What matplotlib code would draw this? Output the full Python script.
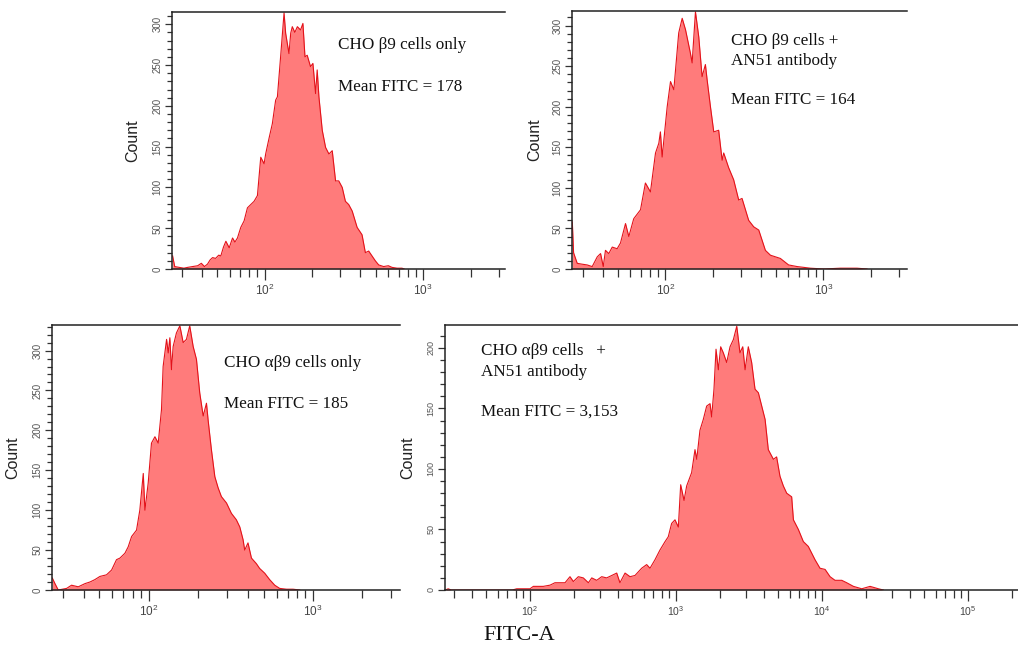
import numpy as np
import matplotlib
matplotlib.use('Agg')
import matplotlib.pyplot as plt
from matplotlib.ticker import LogLocator, MultipleLocator, FuncFormatter, NullFormatter

plt.rcParams['mathtext.fontset'] = 'custom'
plt.rcParams['mathtext.rm'] = 'Liberation Sans'
plt.rcParams['mathtext.it'] = 'Liberation Sans'

# log10(FITC-A) channel positions and counts

# CHO b9 cells only
b9_logx = [1.419, 1.432, 1.46, 1.49, 1.514, 1.545, 1.577, 1.60, 1.62, 1.639,
           1.655, 1.671, 1.69, 1.71, 1.723, 1.74, 1.755, 1.776, 1.797, 1.812,
           1.828, 1.849, 1.870, 1.891, 1.912, 1.933, 1.954, 1.975, 1.996, 2.006,
           2.027, 2.048, 2.069, 2.080, 2.101, 2.122, 2.132, 2.153, 2.164, 2.174,
           2.190, 2.206, 2.226, 2.241, 2.254, 2.268, 2.289, 2.304, 2.321, 2.331,
           2.342, 2.363, 2.384, 2.405, 2.426, 2.447, 2.467, 2.489, 2.509, 2.530,
           2.552, 2.583, 2.614, 2.635, 2.656, 2.677, 2.698, 2.719, 2.750, 2.780,
           2.803, 2.835, 2.866, 2.88]
b9_count = [16, 3, 2, 1, 2, 3, 4, 7, 3, 6,
            11, 14, 13, 17, 16, 27, 34, 26, 38, 33,
            38, 51, 59, 75, 79, 83, 90, 137, 129, 141,
            160, 178, 207, 211, 262, 314, 289, 264, 289, 297,
            290, 297, 293, 301, 260, 262, 248, 252, 215, 244,
            211, 170, 149, 141, 145, 108, 108, 100, 83, 79,
            71, 51, 42, 20, 22, 16, 10, 5, 3, 4,
            2, 1, 1, 0]

# CHO b9 cells + AN51 antibody
b9ab_logx = [1.410, 1.418, 1.441, 1.47, 1.504, 1.536, 1.568, 1.589, 1.606, 1.620,
             1.641, 1.663, 1.694, 1.715, 1.747, 1.768, 1.799, 1.842, 1.873, 1.905,
             1.937, 1.958, 1.968, 1.979, 2.011, 2.032, 2.053, 2.084, 2.106, 2.127,
             2.158, 2.169, 2.190, 2.211, 2.232, 2.253, 2.264, 2.285, 2.306, 2.337,
             2.359, 2.369, 2.400, 2.432, 2.464, 2.485, 2.527, 2.559, 2.591, 2.633,
             2.665, 2.728, 2.780, 2.834, 2.918, 3.002, 3.108, 3.213, 3.277]
b9ab_count = [58, 20, 7, 6, 5, 3, 15, 19, 3, 23,
              19, 27, 25, 32, 56, 40, 62, 73, 106, 95,
              143, 155, 169, 138, 200, 231, 221, 291, 309, 295,
              266, 254, 317, 286, 237, 252, 233, 200, 169, 171,
              134, 143, 125, 110, 85, 87, 60, 52, 48, 23,
              17, 13, 5, 3, 1, 0, 1, 1, 0]

# CHO ab9 cells only
ab9_logx = [1.412, 1.428, 1.448, 1.499, 1.529, 1.570, 1.611, 1.641, 1.671, 1.702,
            1.742, 1.773, 1.803, 1.824, 1.854, 1.874, 1.895, 1.925, 1.945, 1.966,
            1.976, 1.996, 2.016, 2.037, 2.057, 2.077, 2.087, 2.108, 2.118, 2.128,
            2.138, 2.148, 2.168, 2.189, 2.209, 2.229, 2.249, 2.270, 2.290, 2.310,
            2.331, 2.351, 2.361, 2.381, 2.402, 2.422, 2.442, 2.473, 2.503, 2.533,
            2.554, 2.574, 2.584, 2.604, 2.625, 2.655, 2.675, 2.706, 2.736, 2.767,
            2.797, 2.838, 2.878, 2.919]
ab9_count = [15, 8, 0, 2, 6, 4, 8, 10, 13, 17,
             19, 25, 38, 40, 46, 54, 67, 75, 100, 146,
             100, 134, 184, 192, 184, 226, 280, 314, 297, 316,
             276, 305, 322, 331, 310, 314, 331, 305, 289, 247,
             218, 234, 213, 176, 142, 128, 117, 109, 96, 88,
             79, 63, 50, 59, 40, 33, 27, 21, 13, 6,
             2, 1, 1, 0]

# CHO ab9 cells + AN51 antibody
ab9ab_logx = [1.420, 1.440, 1.46, 1.88, 1.909, 2.0, 2.023, 2.091, 2.137, 2.171,
              2.205, 2.240, 2.274, 2.297, 2.331, 2.365, 2.400, 2.423, 2.457, 2.491,
              2.525, 2.560, 2.594, 2.616, 2.651, 2.685, 2.719, 2.765, 2.799, 2.822,
              2.856, 2.890, 2.925, 2.947, 2.970, 2.993, 3.016, 3.032, 3.055, 3.073,
              3.107, 3.130, 3.142, 3.164, 3.187, 3.210, 3.233, 3.244, 3.260, 3.274,
              3.290, 3.306, 3.324, 3.347, 3.370, 3.393, 3.416, 3.438, 3.457, 3.473,
              3.495, 3.518, 3.541, 3.564, 3.587, 3.610, 3.632, 3.667, 3.689, 3.712,
              3.735, 3.758, 3.792, 3.804, 3.838, 3.872, 3.906, 3.952, 3.986, 4.021,
              4.055, 4.089, 4.135, 4.169, 4.215, 4.272, 4.329, 4.386, 4.42]
ab9ab_count = [0, 1, 0, 0, 1, 1, 3, 3, 4, 6,
               6, 6, 11, 7, 11, 10, 6, 10, 8, 11,
               10, 12, 14, 6, 14, 11, 12, 18, 21, 18,
               25, 33, 40, 44, 55, 58, 52, 87, 74, 86,
               97, 116, 108, 132, 141, 152, 154, 143, 166, 199,
               182, 201, 196, 188, 201, 207, 218, 196, 201, 182,
               201, 188, 166, 163, 152, 141, 116, 108, 110, 94,
               86, 80, 77, 58, 50, 40, 36, 25, 18, 17,
               11, 8, 8, 6, 3, 1, 3, 1, 0]

W, H = 1018, 646
fig = plt.figure(figsize=(W / 100, H / 100), dpi=100)

FILL = '#ff7b7b'
EDGE = '#e3121a'
SERIF = 'Liberation Serif'
SANS = 'Liberation Sans'


def px(x, y):
    return x / W, 1 - y / H


def panel(box, logx, count, xlim_log, ymax, ylab_x, tick_fs=7, xtick_fs=8.5):
    l, t, r, b = box
    ax = fig.add_axes([l / W, 1 - b / H, (r - l) / W, (b - t) / H])
    x = 10 ** np.array(logx)
    ax.fill_between(x, count, color=FILL, lw=0)
    ax.plot(x, count, color=EDGE, lw=0.8)
    ax.set_xscale('log')
    ax.set_xlim(10 ** xlim_log[0], 10 ** xlim_log[1])
    ax.set_ylim(0, ymax)

    ax.xaxis.set_major_locator(LogLocator(base=10))
    ax.xaxis.set_minor_locator(LogLocator(base=10, subs=np.arange(2, 10)))
    ax.xaxis.set_minor_formatter(NullFormatter())
    ax.xaxis.set_major_formatter(FuncFormatter(lambda v, p: r'$10^{%d}$' % round(np.log10(v))))
    ax.yaxis.set_major_locator(MultipleLocator(50))
    ax.yaxis.set_minor_locator(MultipleLocator(10))

    ax.tick_params(axis='x', which='major', length=8, width=0.9, color='#333',
                   labelsize=xtick_fs, labelcolor='#444', pad=2)
    ax.tick_params(axis='x', which='minor', length=5.5, width=0.9, color='#333')
    ax.tick_params(axis='y', which='major', length=5, width=0.9, color='#333',
                   labelsize=tick_fs, labelcolor='#555', pad=2)
    ax.tick_params(axis='y', which='minor', length=3.5, width=0.9, color='#333')
    for lab in ax.get_yticklabels():
        lab.set_rotation(90)
        lab.set_va('center')
        lab.set_family(SANS)

    ax.spines['right'].set_visible(False)
    for s in ('left', 'top', 'bottom'):
        ax.spines[s].set_color('#222')
        ax.spines[s].set_linewidth(1.1)

    ax.set_ylabel('Count', family=SANS, fontsize=11.5, color='#222')
    ax.yaxis.set_label_coords(ylab_x, 0.5)
    return ax


panel((172, 12, 505, 269), b9_logx, b9_count, (1.415, 3.516), 315, -0.096)
panel((572, 11, 907, 269), b9ab_logx, b9ab_count, (1.408, 3.53), 318, -0.09)
panel((52, 325, 400, 590), ab9_logx, ab9_count, (1.41, 3.53), 332, -0.092)
panel((445, 325, 1018, 590), ab9ab_logx, ab9ab_count, (1.418, 5.342), 219, -0.052,
      tick_fs=6.5, xtick_fs=7.5)

txt = dict(family=SERIF, fontsize=12.3, va='center', ha='left', color='#111')
fig.text(*px(338, 45), 'CHO β9 cells only', **txt)
fig.text(*px(338, 87), 'Mean FITC = 178', **txt)

fig.text(*px(731, 41), 'CHO β9 cells +', **txt)
fig.text(*px(731, 61), 'AN51 antibody', **txt)
fig.text(*px(731, 100), 'Mean FITC = 164', **txt)

fig.text(*px(224, 363), 'CHO αβ9 cells only', **txt)
fig.text(*px(224, 404), 'Mean FITC = 185', **txt)

fig.text(*px(481, 351), 'CHO αβ9 cells   +', **txt)
fig.text(*px(481, 372), 'AN51 antibody', **txt)
fig.text(*px(481, 412), 'Mean FITC = 3,153', **txt)

fig.text(*px(483, 635), 'FITC-A', family=SERIF, fontsize=16, va='center', ha='left', color='#111')

fig.savefig('out.png', dpi=100)
